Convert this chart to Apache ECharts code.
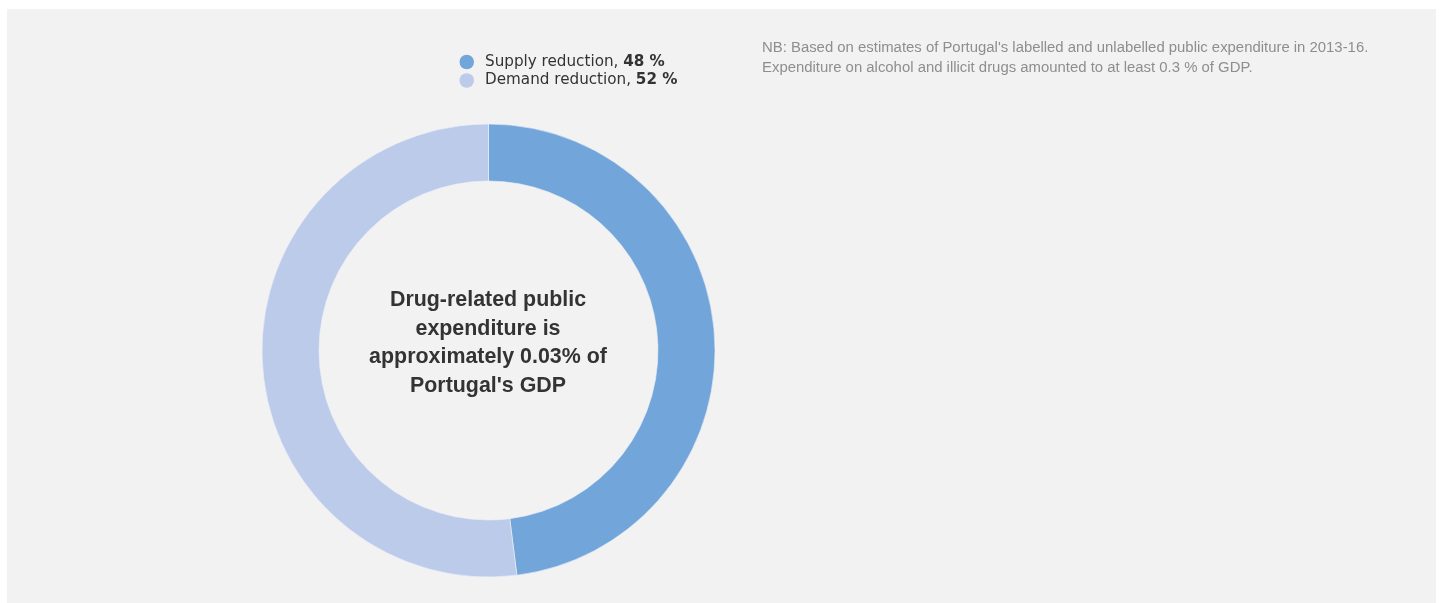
<!DOCTYPE html>
<html><head><meta charset="utf-8">
<script src="https://cdn.jsdelivr.net/npm/echarts@6/dist/echarts.min.js"></script>
<style>html,body{margin:0;padding:0;background:#fff}#c{width:1443px;height:603px}</style>
</head><body><div id="c"></div>
<script>
const categories = ['Supply reduction', 'Demand reduction'];
const values = [48, 52];
const colors = ['#72a5da', '#bccbea'];
const centerText = "Drug-related public\nexpenditure is\napproximately 0.03% of\nPortugal's GDP";
const noteText = "NB: Based on estimates of Portugal's labelled and unlabelled public expenditure in 2013-16.\nExpenditure on alcohol and illicit drugs amounted to at least 0.3 % of GDP.";

const chart = echarts.init(document.getElementById('c'), null, {renderer: 'canvas'});
const valueMap = {};
categories.forEach((c, i) => valueMap[c] = values[i]);
chart.setOption({
  animation: false,
  color: colors,
  graphic: [{
    type: 'rect', left: 7, top: 9, z: -10,
    shape: {width: 1429, height: 594},
    style: {fill: '#f2f2f2'}
  }, {
    type: 'text', x: 488, y: 343, z: 10,
    style: {
      text: centerText, textAlign: 'center', textVerticalAlign: 'middle',
      fontFamily: 'Liberation Sans, Arial, sans-serif', fontSize: 21.4, fontWeight: 'bold',
      fill: '#333', lineHeight: 28.5
    }
  }],
  title: [{
    text: noteText,
    left: 762, top: 38, padding: 0,
    textStyle: {fontFamily: 'Liberation Sans, Arial, sans-serif', fontSize: 14.9, fontWeight: 'normal', color: '#8e8e8e', lineHeight: 20}
  }],
  legend: {
    orient: 'vertical', left: 459.5, top: 54.5, padding: 0,
    icon: 'circle', itemWidth: 14.5, itemHeight: 14.5, itemGap: 3.5,
    itemStyle: {borderWidth: 0},
    data: categories,
    formatter: name => '{s|}{n|' + name + ', }{v|' + valueMap[name] + ' %}',
    textStyle: {
      color: '#333',
      rich: {
        s: {width: 6},
        n: {fontFamily: 'DejaVu Sans, sans-serif', fontSize: 15.2, color: '#333'},
        v: {fontFamily: 'DejaVu Sans, sans-serif', fontSize: 15.2, fontWeight: 'bold', color: '#333'}
      }
    }
  },
  series: [{
    type: 'pie',
    center: [488.5, 350.5],
    radius: [169.5, 226.5],
    startAngle: 90,
    clockwise: true,
    label: {show: false},
    labelLine: {show: false},
    itemStyle: {borderColor: '#eef2f8', borderWidth: 0.6},
    emphasis: {disabled: true},
    data: categories.map((c, i) => ({name: c, value: values[i]}))
  }]
});
</script>
</body></html>
